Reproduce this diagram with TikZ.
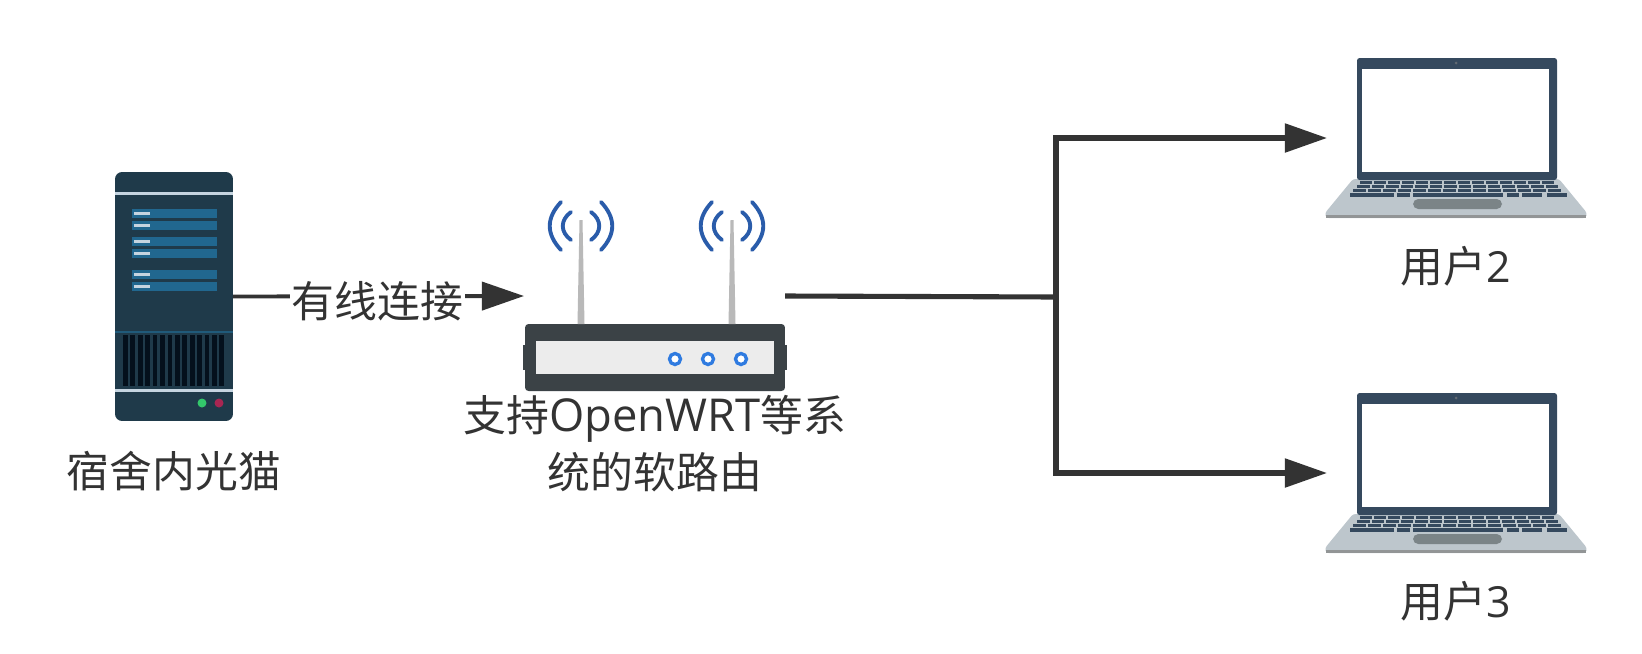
\documentclass[tikz,border=0pt]{standalone}
\usepackage{fontspec}
\setmainfont{Noto Sans CJK SC}
\newfontfamily\latinfont{Open Sans}
\usetikzlibrary{positioning,arrows.meta}
\definecolor{linegray}{HTML}{333333}
\definecolor{serverblue}{HTML}{1F3A4A}
\definecolor{barblue}{HTML}{21678F}
\definecolor{ventdark}{HTML}{04101C}
\definecolor{stripe}{HTML}{C5D4E0}
\definecolor{routerdark}{HTML}{3B4246}
\definecolor{wave}{HTML}{2A5CAA}
\definecolor{led}{HTML}{2F7BE0}
\definecolor{lapframe}{HTML}{35495E}
\definecolor{lapbase}{HTML}{BDC6CC}
\definecolor{touchpad}{HTML}{7B8487}
\tikzset{
	label text/.style = {font = \fontsize{24.4pt}{32.3pt}\selectfont, text = linegray, inner sep = 0pt, align = center},
	link/.style = {draw = linegray, line width = 2.9pt},
	arrow link/.style = {link, -{Triangle[length = 24pt, width = 16pt]}},
	icon/.style = {inner sep = 0pt, outer sep = 0pt},
	wave arc/.style = {wave, line width = 2.2pt, line cap = round},
}
\begin{document}
\begin{tikzpicture}[x = 0.02cm, y = -0.02cm]
	\useasboundingbox (0,0) rectangle (1642,653);
	% server
	\node [icon, fill = serverblue, rounded corners = 4pt, minimum width = 2.36cm, minimum height = 4.98cm] (server) at (174,296.5) {};
	\fill [stripe] (115,191.5) rectangle (233,194.5);
	\fill [stripe] (115,388.5) rectangle (233,391.5);
	\fill [barblue!70!serverblue] (115,331) rectangle (233,333);
	\foreach \y in {209,221,237,249,270,282} {
		\fill [barblue] (132,\y) rectangle (217,\y+9);
		\fill [stripe] (134,\y+3) rectangle (150,\y+6);
	}
	\foreach \i in {0,...,13}
		\fill [ventdark] (123+7.42*\i,335) rectangle (127.8+7.42*\i,386);
	\fill [green!45!teal!80!white] (202,403) circle (4.5);
	\fill [purple!80!black!85!white] (219,403) circle (4.5);
	\node [label text, below = 17pt of server] (serverlabel) {宿舍内光猫};
	% router
	\fill [routerdark] (523,345) rectangle (787,370);
	\node [icon, fill = routerdark, rounded corners = 2pt, minimum width = 5.2cm, minimum height = 1.34cm] (router) at (655,357.5) {};
	\fill [gray!15] (536,341) rectangle (774,374);
	\foreach \x in {675,708,741}
		\draw [led, fill = white, line width = 1.9pt] (\x,359) circle (5.5);
	\foreach \x in {581,732} {
		\fill [lightgray!90!gray] (\x-3.5,324) -- (\x-1.5,220) -- (\x+1.5,220) -- (\x+3.5,324) -- cycle;
		\draw [wave arc] (\x-20,202) .. controls (\x-35,218) and (\x-35,234) .. (\x-20,250);
		\draw [wave arc] (\x+20,202) .. controls (\x+35,218) and (\x+35,234) .. (\x+20,250);
		\draw [wave arc] (\x-10,212) .. controls (\x-21,220) and (\x-21,232) .. (\x-10,240);
		\draw [wave arc] (\x+10,212) .. controls (\x+21,220) and (\x+21,232) .. (\x+10,240);
	}
	\node [label text, below = 2.5pt of router] (routerlabel) {支持{\latinfont\fontsize{25.8pt}{32.3pt}\selectfont OpenWRT}等系\\统的软路由};
	% laptops
	\foreach \name/\y/\txt in {usera/138/2,userb/473/3} {
		\begin{scope}[shift = {(1456,\y)}]
			\node [icon, minimum width = 5.16cm, minimum height = 3.2cm] (\name) at (0,0) {};
			\fill [lapbase, rounded corners = 1.5pt] (-103,41) -- (103,41) -- (131,75) -- (130,80) -- (-130,80) -- (-131,75) -- cycle;
			\fill [gray!70!lapbase] (-130,77) rectangle (130,80);
			\fill [lapframe, rounded corners = 1.5pt] (-99,-80) rectangle (101,42);
			\fill [white] (-94,-69) rectangle (93,34);
			\fill [gray!60!lapframe] (0,-75) circle (1.5);
			\foreach \row/\left/\keyw in {43.2/-96/14,47.2/-99/14.5,51.2/-103/15} {
				\foreach \i in {0,...,13}
					\fill [lapframe] (\left+\i*\keyw,\row) rectangle (\left+\i*\keyw+\keyw-2,\row+3.2);
			}
			\foreach \a/\b in {-106/-62,-59/-46,-43/47,51/63,66/86,91/111}
				\fill [lapframe] (\a,55.4) rectangle (\b,59);
			\fill [touchpad, rounded corners = 3pt] (-43,61) rectangle (46,71);
		\end{scope}
		\node [label text, below = 16pt of \name] (\name label) {用户{\latinfont\txt}};
	}
	% connectors
	\coordinate (routerin) at (524,296);
	\coordinate (routerout) at (785,296);
	\coordinate (split) at (1056,297);
	\draw [arrow link, line width = 2.2pt] (server.east) -- (routerin) node [midway, fill = white, label text, xshift = -0.5pt, yshift = -2.8pt, inner xsep = 1pt] (wired) {有线连接};
	\draw [link] (routerout) -- (split);
	\draw [arrow link] (split |- usera.west) -- (usera.west);
	\draw [arrow link] (split |- userb.west) -- (userb.west);
	\draw [link, line cap = rect] (split |- usera.west) -- (split |- userb.west);
\end{tikzpicture}
\end{document}
